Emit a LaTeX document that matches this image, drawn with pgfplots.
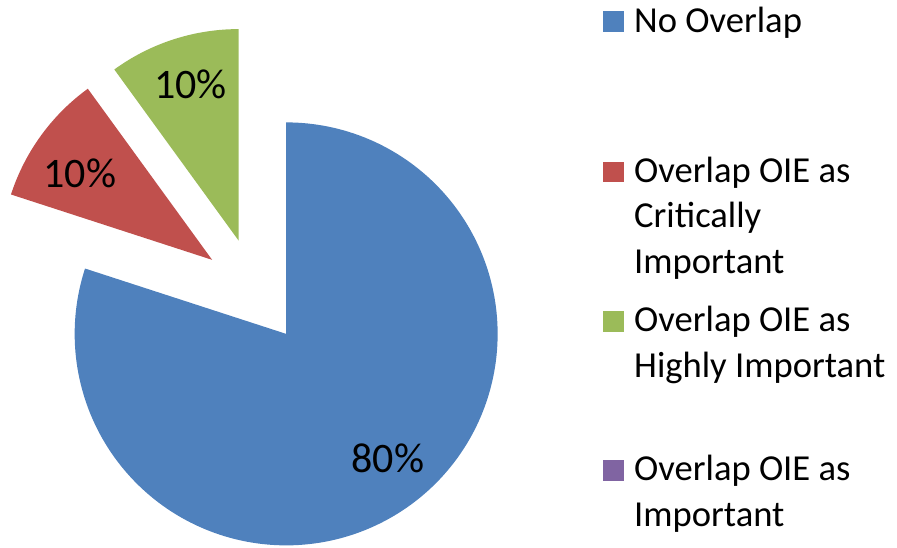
\documentclass[border=0pt]{standalone}
\usepackage{pgfplots}
\pgfplotsset{compat=1.18}
\usepackage{fontspec}
\setmainfont{Carlito}
\definecolor{cblue}{HTML}{4F81BD}
\definecolor{cred}{HTML}{C0504D}
\definecolor{cgreen}{HTML}{9BBB59}
\definecolor{cpurple}{HTML}{8064A2}
% slice values (percent)
\def\vA{80}\def\vB{10}\def\vC{10}\def\vD{0}
\def\R{211.5}\def\Cx{255}\def\Cy{256}\def\Ex{53}
\pgfmathsetmacro\sA{90}
\pgfmathsetmacro\eA{\sA-3.6*\vA}
\pgfmathsetmacro\eB{\eA-3.6*\vB}
\pgfmathsetmacro\eC{\eB-3.6*\vC}
\pgfmathsetmacro\mA{(\sA+\eA)/2}
\pgfmathsetmacro\mB{(\eA+\eB)/2}
\pgfmathsetmacro\mC{(\eB+\eC)/2}
\pgfmathsetmacro\xA{\Cx+\Ex*cos(\mA)}\pgfmathsetmacro\yA{\Cy+\Ex*sin(\mA)}
\pgfmathsetmacro\xB{\Cx+\Ex*cos(\mB)}\pgfmathsetmacro\yB{\Cy+\Ex*sin(\mB)}
\pgfmathsetmacro\xC{\Cx+\Ex*cos(\mC)}\pgfmathsetmacro\yC{\Cy+\Ex*sin(\mC)}
\newcommand{\legfont}{\fontsize{36.6}{45.7}\selectfont}
\newcommand{\labfont}{\fontsize{42}{50}\selectfont}
\begin{document}
\begin{tikzpicture}
\begin{axis}[
  width=897pt, height=547pt, scale only axis,
  xmin=0, xmax=897, ymin=0, ymax=547,
  hide axis, clip=false,
]
\path (axis cs:0,0) rectangle (axis cs:897,547);
\addplot[fill=cblue, draw=none, domain=\eA:\sA, samples=200, variable=\t]
  ({\xA+\R*cos(\t)},{\yA+\R*sin(\t)}) -- (axis cs:\xA,\yA) -- cycle;
\addplot[fill=cred, draw=none, domain=\eB:\eA, samples=40, variable=\t]
  ({\xB+\R*cos(\t)},{\yB+\R*sin(\t)}) -- (axis cs:\xB,\yB) -- cycle;
\addplot[fill=cgreen, draw=none, domain=\eC:\eB, samples=40, variable=\t]
  ({\xC+\R*cos(\t)},{\yC+\R*sin(\t)}) -- (axis cs:\xC,\yC) -- cycle;
% data labels
\node[inner sep=0, font=\labfont] at (axis cs:388,89) {80\%};
\node[inner sep=0, font=\labfont] at (axis cs:80,373.5) {10\%};
\node[inner sep=0, font=\labfont] at (axis cs:190.5,463) {10\%};
% legend
\fill[cblue]   (axis cs:603,536) rectangle (axis cs:624,515);
\fill[cred]    (axis cs:603,385.3) rectangle (axis cs:624,365);
\fill[cgreen]  (axis cs:603,236.3) rectangle (axis cs:624,215.3);
\fill[cpurple] (axis cs:603,87) rectangle (axis cs:624,66.3);
\begin{scope}[every node/.style={inner sep=0, anchor=base west, font=\legfont}]
\node at (axis cs:634,514.7) {No Overlap};
\node at (axis cs:634,364.7) {Overlap OIE as};
\node at (axis cs:634,319.0) {Critically};
\node at (axis cs:634,273.3) {Important};
\node at (axis cs:634,215.3) {Overlap OIE as};
\node at (axis cs:634,169.6) {Highly Important};
\node at (axis cs:634,66.3) {Overlap OIE as};
\node at (axis cs:634,20.6) {Important};
\end{scope}
\end{axis}
\end{tikzpicture}
\end{document}
